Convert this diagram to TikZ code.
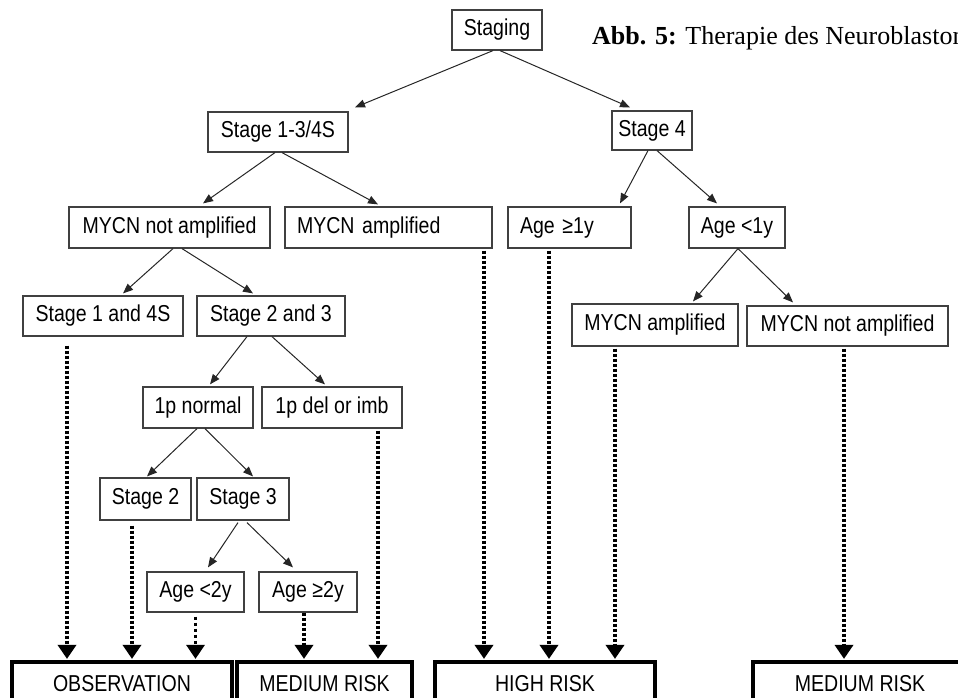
\documentclass[tikz,border=0pt]{standalone}
\usepackage{fontspec}
\setmainfont[FakeStretch=0.85]{Liberation Sans}
\newfontfamily\capfont{Liberation Serif}
\usetikzlibrary{arrows.meta}

\tikzset{
    box/.style={draw=black!75, line width=1.2pt, minimum height=40pt,
        inner sep=0pt, font=\fontsize{23}{26}\selectfont},
    leftbox/.style={box, inner xsep=12pt, text width=#1, align=left},
    riskbox/.style={draw, line width=3.2pt, minimum height=44pt,
        inner sep=0pt, font=\fontsize{23}{26}\selectfont},
    branch/.style={-{Triangle[length=10pt,width=8pt]}, line width=1pt, black!85},
    goes/.style={-{Triangle[length=14pt,width=18pt]}, line width=4.5pt,
        dash pattern=on 3pt off 2pt, shorten >=1.5pt},
}

\begin{document}
\begin{tikzpicture}[x=1pt, y=-1pt]

    \useasboundingbox (0,0) rectangle (958,698);
    \clip (0,0) rectangle (958,698);

    \node[anchor=base west, inner sep=0pt, font=\capfont\fontsize{26}{30}\selectfont]
        (title) at (592,45) {\textbf{Abb. 5:} Therapie des Neuroblastoms};

    % tree
    \node[box, minimum width=90pt] (staging) at (497,30) {Staging};

    \node[box, minimum width=140pt] (s13) at (278,132) {Stage 1-3/4S};
    \node[box, minimum width=80pt, minimum height=39pt] (stage4) at (652,130.5) {Stage 4};

    \node[box, minimum width=201pt, minimum height=41pt] (nampL) at (169.5,227.5) {MYCN not amplified};
    \node[leftbox=183pt, minimum height=41pt] (ampL) at (388.5,227.5) {MYCN amplified};
    \node[leftbox=99pt, minimum height=41pt] (age1a) at (569.5,227.5) {Age ≥1y};
    \node[box, minimum width=96pt, minimum height=41pt] (age1b) at (737,227.5) {Age <1y};

    \node[box, minimum width=160pt] (st14) at (103,316) {Stage 1 and 4S};
    \node[box, minimum width=148pt] (st23) at (271,316) {Stage 2 and 3};
    \node[box, minimum width=166pt, minimum height=42pt] (ampR) at (655,325) {MYCN amplified};
    \node[box, minimum width=201pt] (nampR) at (847.5,326) {MYCN not amplified};

    \node[box, minimum width=110pt, minimum height=41pt] (pnorm) at (198,407.5) {1p normal};
    \node[box, minimum width=140pt, minimum height=41pt] (pdel) at (332,407.5) {1p del or imb};

    \node[box, minimum width=91pt, minimum height=42pt] (st2) at (145.5,499) {Stage 2};
    \node[box, minimum width=92pt, minimum height=42pt] (st3) at (243,499) {Stage 3};

    \node[box, minimum width=97pt] (age2a) at (195.5,592) {Age <2y};
    \node[box, minimum width=98pt] (age2b) at (308,592) {Age ≥2y};

    % outcomes
    \node[riskbox, minimum width=220pt] (obs) at (122,684) {OBSERVATION};
    \node[riskbox, minimum width=175pt] (medL) at (324.5,684) {MEDIUM RISK};
    \node[riskbox, minimum width=220pt] (high) at (545,684) {HIGH RISK};
    \node[riskbox, minimum width=214pt] (medR) at (860,684) {MEDIUM RISK};

    \draw[branch] ([xshift=-4pt]staging.south) -- ([xshift=77pt,yshift=4pt]s13.north);
    \draw[branch] ([xshift=3pt]staging.south) -- ([xshift=-22pt,yshift=3pt]stage4.north);

    \draw[branch] ([xshift=-3pt]s13.south) -- ([xshift=33.5pt,yshift=3pt]nampL.north);
    \draw[branch] ([xshift=4pt]s13.south) -- ([xshift=-10.5pt,yshift=2pt]ampL.north);
    \draw[branch] ([xshift=-4pt]stage4.south) -- ([xshift=50.5pt,yshift=3pt]age1a.north);
    \draw[branch] ([xshift=5pt]stage4.south) -- ([xshift=-20pt,yshift=3pt]age1b.north);

    \draw[branch] ([xshift=3.5pt]nampL.south) -- ([xshift=20pt,yshift=2pt]st14.north);
    \draw[branch] ([xshift=12.5pt]nampL.south) -- ([xshift=-18pt,yshift=2pt]st23.north);
    \draw[branch] ([xshift=1pt]age1b.south) -- ([xshift=38pt,yshift=2pt]ampR.north);
    \draw[branch] ([xshift=1pt]age1b.south) -- ([xshift=-54.5pt,yshift=3pt]nampR.north);

    \draw[branch] ([xshift=-24pt]st23.south) -- ([xshift=12pt,yshift=2pt]pnorm.north);
    \draw[branch] ([xshift=1pt]st23.south) -- ([xshift=-7pt,yshift=2pt]pdel.north);

    \draw[branch] ([xshift=-1pt]pnorm.south) -- ([xshift=1.5pt,yshift=1pt]st2.north);
    \draw[branch] ([xshift=7pt]pnorm.south) -- ([xshift=10pt,yshift=1pt]st3.north);

    \draw[branch] ([xshift=-5pt,yshift=-2pt]st3.south) -- ([xshift=12.5pt,yshift=4pt]age2a.north);
    \draw[branch] ([xshift=4pt,yshift=-2pt]st3.south) -- ([xshift=-15pt,yshift=4pt]age2b.north);

    % dotted arrows to the outcomes
    \draw[goes] ([xshift=-36pt,yshift=-9pt]st14.south) -- ([xshift=-36pt]st14.south |- obs.north);
    \draw[goes] ([xshift=-13.5pt,yshift=-5pt]st2.south) -- ([xshift=-13.5pt]st2.south |- obs.north);
    \draw[goes, line width=3pt, dash pattern=on 3pt off 3pt] ([yshift=-4pt]age2a.south) -- (age2a.south |- obs.north);
    \draw[goes] ([xshift=-4pt]age2b.south) -- ([xshift=-4pt]age2b.south |- medL.north);
    \draw[goes] ([xshift=46pt,yshift=-2pt]pdel.south) -- ([xshift=46pt]pdel.south |- medL.north);
    \draw[goes] ([xshift=95.5pt,yshift=-2pt]ampL.south) -- ([xshift=95.5pt]ampL.south |- high.north);
    \draw[goes] ([xshift=-20.5pt,yshift=-2pt]age1a.south) -- ([xshift=-20.5pt]age1a.south |- high.north);
    \draw[goes] ([xshift=-40pt,yshift=-2pt]ampR.south) -- ([xshift=-40pt]ampR.south |- high.north);
    \draw[goes] ([xshift=-3.5pt,yshift=-2pt]nampR.south) -- ([xshift=-3.5pt]nampR.south |- medR.north);

\end{tikzpicture}
\end{document}
